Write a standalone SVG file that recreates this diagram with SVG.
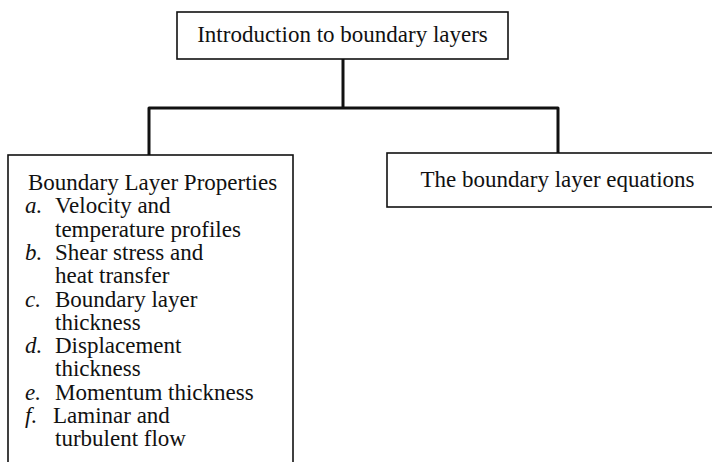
<svg xmlns="http://www.w3.org/2000/svg" width="712" height="462" viewBox="0 0 712 462">
<style>
.box{fill:#fff;stroke:#111;stroke-width:1.6}
.conn{fill:none;stroke:#111;stroke-width:3;stroke-linejoin:round}
text{font-family:"Liberation Serif","Times New Roman",serif;font-size:23px;fill:#111}
.it{font-style:italic}
</style>
<rect width="712" height="462" fill="#fff"/>
<g id="connectors">
<path class="conn" d="M343 59 V108"/>
<path class="conn" d="M149 155 V108 H558 V153"/>
</g>
<g id="node-intro">
<rect class="box" x="177" y="12" width="331" height="47"/>
<text x="342.5" y="42" text-anchor="middle">Introduction to boundary layers</text>
</g>
<g id="node-equations">
<rect class="box" x="387" y="153" width="345" height="54"/>
<text x="557.5" y="187" text-anchor="middle">The boundary layer equations</text>
</g>
<g id="node-properties">
<rect class="box" x="8" y="155" width="285" height="330"/>
<text x="28" y="190">Boundary Layer Properties</text>
<text class="it" x="25" y="213.3">a.</text>
<text x="55" y="213.3">Velocity and</text>
<text x="55" y="236.6">temperature profiles</text>
<text class="it" x="25" y="259.9">b.</text>
<text x="55" y="259.9">Shear stress and</text>
<text x="55" y="283.2">heat transfer</text>
<text class="it" x="25" y="306.5">c.</text>
<text x="55" y="306.5">Boundary layer</text>
<text x="55" y="329.8">thickness</text>
<text class="it" x="25" y="353.1">d.</text>
<text x="55" y="353.1">Displacement</text>
<text x="55" y="376.4">thickness</text>
<text class="it" x="25" y="399.7">e.</text>
<text x="55" y="399.7">Momentum thickness</text>
<text class="it" x="25" y="423">f.</text>
<text x="53" y="423">Laminar and</text>
<text x="55" y="446.3">turbulent flow</text>
</g>
</svg>
